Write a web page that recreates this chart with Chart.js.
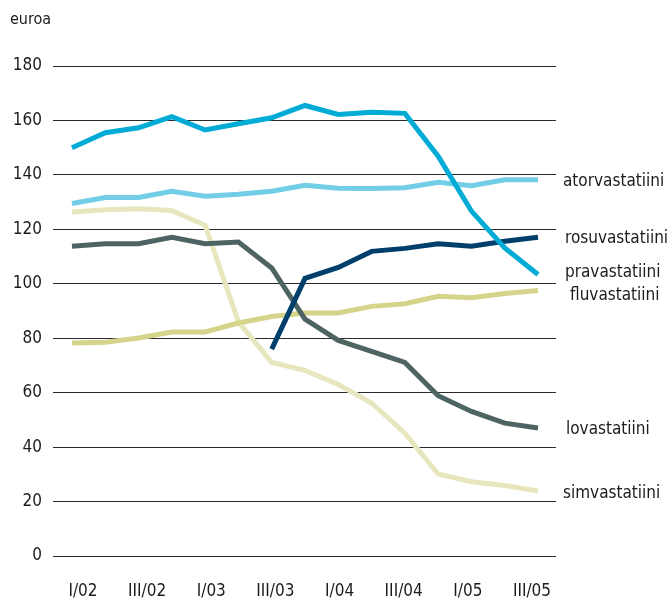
<!DOCTYPE html>
<html>
<head>
<meta charset="utf-8">
<script src="https://cdn.jsdelivr.net/npm/chart.js@4/dist/chart.umd.min.js"></script>
<style>
  html, body { margin: 0; padding: 0; background: #fff; }
  #wrap { width: 667px; height: 599px; position: relative; }
</style>
</head>
<body>
<div id="wrap"><canvas id="c"></canvas></div>
<script>
const quarters = ['I/02', 'II/02', 'III/02', 'IV/02', 'I/03', 'II/03', 'III/03', 'IV/03',
  'I/04', 'II/04', 'III/04', 'IV/04', 'I/05', 'II/05', 'III/05'];
const xTickLabels = ['I/02', 'III/02', 'I/03', 'III/03', 'I/04', 'III/04', 'I/05', 'III/05'];
const yTicks = [0, 20, 40, 60, 80, 100, 120, 140, 160, 180];

const pravastatiini = [150.0, 155.5, 157.3, 161.4, 156.5, 158.8, 161.0, 165.5, 162.2, 163.0, 162.6, 146.9, 126.7, 113.2, 103.4];
const rosuvastatiini = [null, null, null, null, null, null, 76.0, 102.0, 106.0, 111.9, 113.0, 114.7, 113.8, 115.6, 117.1];
const atorvastatiini = [129.5, 131.7, 131.7, 134.0, 132.2, 132.9, 134.0, 136.2, 135.1, 135.0, 135.3, 137.3, 136.0, 138.2, 138.2];
const lovastatiini = [113.8, 114.7, 114.7, 117.1, 114.7, 115.3, 105.8, 87.0, 79.2, 75.2, 71.1, 58.9, 53.1, 48.8, 47.0];
const fluvastatiini = [78.2, 78.5, 80.1, 82.3, 82.3, 85.6, 88.0, 89.3, 89.3, 91.7, 92.7, 95.4, 94.9, 96.4, 97.5];
const simvastatiini = [126.4, 127.2, 127.6, 126.9, 121.5, 86.0, 71.1, 68.2, 63.0, 56.2, 45.1, 30.1, 27.3, 25.9, 23.9];

const FONT = "'Liberation Sans Narrow', 'DejaVu Sans Condensed', sans-serif";
const TEXT = '#1e1b1c';

function pts(arr) {
  return arr.map((v, i) => ({ x: i, y: v }));
}

const series = [
  { label: 'pravastatiini', data: pravastatiini, color: '#00abd5' },
  { label: 'rosuvastatiini', data: rosuvastatiini, color: '#003e6c' },
  { label: 'atorvastatiini', data: atorvastatiini, color: '#72cde6' },
  { label: 'lovastatiini', data: lovastatiini, color: '#4e6462' },
  { label: 'fluvastatiini', data: fluvastatiini, color: '#d6d38b' },
  { label: 'simvastatiini', data: simvastatiini, color: '#e8e6bf' }
];

// where the series names sit: value on y axis, px right of plot area
const labelSpots = {
  atorvastatiini: { v: 137.7, dx: 7 },
  rosuvastatiini: { v: 116.5, dx: 9 },
  pravastatiini: { v: 104.0, dx: 9 },
  fluvastatiini: { v: 95.6, dx: 14 },
  lovastatiini: { v: 46.3, dx: 10 },
  simvastatiini: { v: 22.8, dx: 7 }
};

const textPlugin = {
  id: 'texts',
  afterDraw(chart) {
    const ctx = chart.ctx;
    const y = chart.scales.y;
    const area = chart.chartArea;
    ctx.save();
    ctx.fillStyle = TEXT;
    ctx.textBaseline = 'middle';
    ctx.textAlign = 'left';
    ctx.font = '16px ' + FONT;
    ctx.fillText('euroa', 10, 20);
    ctx.font = '17px ' + FONT;
    Object.keys(labelSpots).forEach(name => {
      const s = labelSpots[name];
      ctx.fillText(name, area.right + s.dx, y.getPixelForValue(s.v));
    });
    ctx.restore();
  }
};

new Chart(document.getElementById('c'), {
  type: 'line',
  data: {
    datasets: series.map(s => ({
      label: s.label,
      data: pts(s.data),
      borderColor: s.color,
      backgroundColor: s.color,
      borderWidth: 5,
      pointRadius: 0,
      tension: 0,
      spanGaps: false,
      borderCapStyle: 'butt',
      borderJoinStyle: 'miter'
    }))
  },
  options: {
    responsive: true,
    maintainAspectRatio: false,
    animation: false,
    layout: { padding: { top: 66, right: 111, left: 0, bottom: 0 } },
    plugins: { legend: { display: false }, tooltip: { enabled: false } },
    scales: {
      x: {
        type: 'linear',
        min: -0.57,
        max: 14.54,
        afterFit: axis => { axis.height = 0; },
        grid: { display: false, drawTicks: false },
        border: { display: false },
        ticks: { display: false }
      },
      // label axis: the printed labels sit a little off the quarter points
      xl: {
        type: 'linear',
        position: 'bottom',
        min: -0.468,
        max: 7.375,
        afterBuildTicks: axis => {
          axis.ticks = xTickLabels.map((q, i) => ({ value: i }));
        },
        afterFit: axis => { axis.height = 43; },
        grid: { display: false, drawTicks: false },
        border: { display: false },
        ticks: {
          autoSkip: false,
          maxRotation: 0,
          padding: 25,
          color: TEXT,
          font: { family: FONT, size: 17 },
          callback: v => xTickLabels[v]
        }
      },
      y: {
        min: 0,
        max: 180,
        afterBuildTicks: axis => {
          axis.ticks = yTicks.map(v => ({ value: v }));
        },
        afterFit: axis => { axis.width = 53; },
        grid: { color: '#2a2a2a', lineWidth: 1, drawTicks: false },
        border: { display: false },
        ticks: {
          padding: 11,
          color: TEXT,
          font: { family: FONT, size: 17 }
        }
      }
    }
  },
  plugins: [textPlugin]
});
</script>
</body>
</html>
